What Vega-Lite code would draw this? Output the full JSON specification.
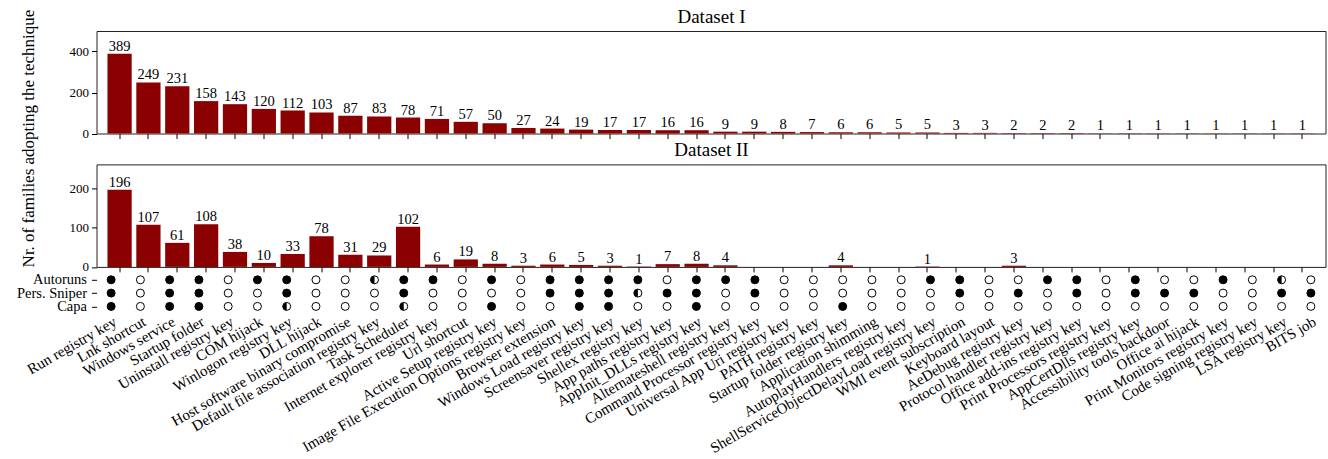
{
  "$schema": "https://vega.github.io/schema/vega-lite/v6.json",
  "padding": {"left": 15.5, "right": 3, "top": 6, "bottom": 5},
  "config": {
    "font": "Liberation Serif",
    "view": {"stroke": "#222", "strokeWidth": 1},
    "axis": {"grid": false, "labelFont": "Liberation Serif", "titleFont": "Liberation Serif", "labelColor": "black", "tickColor": "black", "domainColor": "black", "titleColor": "black", "titleFontWeight": "normal"}
  },
  "datasets": {
    "t": [
      {"technique": "Run registry key", "d1": 389, "d2": 196, "autoruns": "full", "sniper": "full", "capa": "full"},
      {"technique": "Lnk shortcut", "d1": 249, "d2": 107, "autoruns": "empty", "sniper": "empty", "capa": "empty"},
      {"technique": "Windows service", "d1": 231, "d2": 61, "autoruns": "full", "sniper": "full", "capa": "full"},
      {"technique": "Startup folder", "d1": 158, "d2": 108, "autoruns": "full", "sniper": "full", "capa": "full"},
      {"technique": "Uninstall registry key", "d1": 143, "d2": 38, "autoruns": "empty", "sniper": "empty", "capa": "empty"},
      {"technique": "COM hijack", "d1": 120, "d2": 10, "autoruns": "full", "sniper": "empty", "capa": "empty"},
      {"technique": "Winlogon registry key", "d1": 112, "d2": 33, "autoruns": "full", "sniper": "full", "capa": "half"},
      {"technique": "DLL hijack", "d1": 103, "d2": 78, "autoruns": "empty", "sniper": "empty", "capa": "empty"},
      {"technique": "Host software binary compromise", "d1": 87, "d2": 31, "autoruns": "empty", "sniper": "empty", "capa": "empty"},
      {"technique": "Default file association registry key", "d1": 83, "d2": 29, "autoruns": "half", "sniper": "empty", "capa": "empty"},
      {"technique": "Task Scheduler", "d1": 78, "d2": 102, "autoruns": "full", "sniper": "full", "capa": "half"},
      {"technique": "Internet explorer registry key", "d1": 71, "d2": 6, "autoruns": "full", "sniper": "empty", "capa": "empty"},
      {"technique": "Url shortcut", "d1": 57, "d2": 19, "autoruns": "empty", "sniper": "empty", "capa": "empty"},
      {"technique": "Active Setup registry key", "d1": 50, "d2": 8, "autoruns": "full", "sniper": "empty", "capa": "full"},
      {"technique": "Image File Execution Options registry key", "d1": 27, "d2": 3, "autoruns": "empty", "sniper": "empty", "capa": "empty"},
      {"technique": "Browser extension", "d1": 24, "d2": 6, "autoruns": "full", "sniper": "full", "capa": "empty"},
      {"technique": "Windows Load registry key", "d1": 19, "d2": 5, "autoruns": "full", "sniper": "full", "capa": "full"},
      {"technique": "Screensaver registry key", "d1": 17, "d2": 3, "autoruns": "full", "sniper": "full", "capa": "full"},
      {"technique": "Shellex registry key", "d1": 17, "d2": 1, "autoruns": "full", "sniper": "half", "capa": "empty"},
      {"technique": "App paths registry key", "d1": 16, "d2": 7, "autoruns": "empty", "sniper": "full", "capa": "empty"},
      {"technique": "AppInit_DLLs registry key", "d1": 16, "d2": 8, "autoruns": "full", "sniper": "full", "capa": "full"},
      {"technique": "Alternateshell registry key", "d1": 9, "d2": 4, "autoruns": "full", "sniper": "empty", "capa": "empty"},
      {"technique": "Command Processor registry key", "d1": 9, "d2": 0, "autoruns": "full", "sniper": "full", "capa": "empty"},
      {"technique": "Universal App Uri registry key", "d1": 8, "d2": 0, "autoruns": "empty", "sniper": "empty", "capa": "empty"},
      {"technique": "PATH registry key", "d1": 7, "d2": 0, "autoruns": "empty", "sniper": "empty", "capa": "empty"},
      {"technique": "Startup folder registry key", "d1": 6, "d2": 4, "autoruns": "empty", "sniper": "empty", "capa": "full"},
      {"technique": "Application shimming", "d1": 6, "d2": 0, "autoruns": "empty", "sniper": "empty", "capa": "empty"},
      {"technique": "AutoplayHandlers registry key", "d1": 5, "d2": 0, "autoruns": "empty", "sniper": "empty", "capa": "empty"},
      {"technique": "ShellServiceObjectDelayLoad registry key", "d1": 5, "d2": 1, "autoruns": "full", "sniper": "empty", "capa": "empty"},
      {"technique": "WMI event subscription", "d1": 3, "d2": 0, "autoruns": "full", "sniper": "full", "capa": "empty"},
      {"technique": "Keyboard layout", "d1": 3, "d2": 0, "autoruns": "empty", "sniper": "empty", "capa": "empty"},
      {"technique": "AeDebug registry key", "d1": 2, "d2": 3, "autoruns": "empty", "sniper": "full", "capa": "empty"},
      {"technique": "Protocol handler registry key", "d1": 2, "d2": 0, "autoruns": "full", "sniper": "empty", "capa": "empty"},
      {"technique": "Office add-ins registry key", "d1": 2, "d2": 0, "autoruns": "full", "sniper": "full", "capa": "empty"},
      {"technique": "Print Processors registry key", "d1": 1, "d2": 0, "autoruns": "empty", "sniper": "empty", "capa": "empty"},
      {"technique": "AppCertDlls registry key", "d1": 1, "d2": 0, "autoruns": "full", "sniper": "full", "capa": "empty"},
      {"technique": "Accessibility tools backdoor", "d1": 1, "d2": 0, "autoruns": "empty", "sniper": "full", "capa": "empty"},
      {"technique": "Office ai hijack", "d1": 1, "d2": 0, "autoruns": "empty", "sniper": "full", "capa": "empty"},
      {"technique": "Print Monitors registry key", "d1": 1, "d2": 0, "autoruns": "full", "sniper": "empty", "capa": "empty"},
      {"technique": "Code signing registry key", "d1": 1, "d2": 0, "autoruns": "empty", "sniper": "empty", "capa": "empty"},
      {"technique": "LSA registry key", "d1": 1, "d2": 0, "autoruns": "half", "sniper": "full", "capa": "empty"},
      {"technique": "BITS job", "d1": 1, "d2": 0, "autoruns": "empty", "sniper": "full", "capa": "empty"}
    ]
  },
  "bounds": "flush",
  "spacing": 30.4,
  "vconcat": [
    {
      "width": 1229,
      "height": 102.5,
      "data": {"name": "t"},
      "resolve": {"axis": {"x": "independent"}},
      "layer": [
        {
          "mark": {"type": "bar", "color": "#8b0000"},
          "encoding": {
            "x": {"field": "technique", "type": "nominal", "sort": null, "scale": {"paddingInner": 0.16, "paddingOuter": 0.38}, "axis": {"labels": false, "ticks": true, "tickSize": 5, "domain": false, "title": null}},
            "y": {"field": "d1", "type": "quantitative", "scale": {"domain": [0, 486]}, "axis": {"values": [0, 200, 400], "tickSize": 5, "labelFontSize": 13, "labelPadding": 3, "domain": false, "title": null}}
          }
        },
        {
          "mark": {"type": "text", "baseline": "alphabetic", "dy": -3, "fontSize": 14.5, "font": "Liberation Serif", "color": "black"},
          "encoding": {
            "x": {"field": "technique", "type": "nominal", "sort": null, "axis": {"orient": "top", "labels": false, "ticks": false, "domain": false, "title": "Dataset I", "titleFontSize": 19, "titlePadding": 5}},
            "y": {"field": "d1", "type": "quantitative"},
            "text": {"field": "d1", "type": "quantitative"}
          }
        }
      ]
    },
    {
      "width": 1229,
      "height": 102.5,
      "data": {"name": "t"},
      "resolve": {"axis": {"x": "independent"}},
      "layer": [
        {
          "mark": {"type": "bar", "color": "#8b0000"},
          "encoding": {
            "x": {"field": "technique", "type": "nominal", "sort": null, "scale": {"paddingInner": 0.16, "paddingOuter": 0.38}, "axis": {"labels": false, "ticks": true, "tickSize": 5, "domain": false, "title": null}},
            "y": {"field": "d2", "type": "quantitative", "scale": {"domain": [0, 245]}, "axis": {"values": [0, 100, 200], "tickSize": 5, "labelFontSize": 13, "labelPadding": 3, "domain": false, "title": "Nr. of families adopting the technique", "titleFontSize": 17, "titleAlign": "left", "titleAngle": -90, "titleBaseline": "alphabetic", "titleX": -63, "titleY": 102.5}}
          }
        },
        {
          "mark": {"type": "text", "baseline": "alphabetic", "dy": -3, "fontSize": 14.5, "font": "Liberation Serif", "color": "black"},
          "encoding": {
            "x": {"field": "technique", "type": "nominal", "sort": null, "axis": {"orient": "top", "labels": false, "ticks": false, "domain": false, "title": "Dataset II", "titleFontSize": 19, "titlePadding": 5}},
            "y": {"field": "d2", "type": "quantitative"},
            "text": {"condition": {"test": "datum.d2 > 0", "field": "d2", "type": "quantitative"}, "value": ""}
          }
        }
      ]
    },
    {
      "width": 1229,
      "height": 12,
      "view": {"stroke": null},
      "data": {"name": "t"},
      "transform": [{"fold": ["autoruns", "sniper", "capa"], "as": ["tool", "status"]}],
      "encoding": {
        "x": {"field": "technique", "type": "nominal", "sort": null, "scale": {"paddingInner": 0.16, "paddingOuter": 0.38}, "axis": {"labelAngle": -30, "labelAlign": "right", "labelBaseline": "top", "labelFontSize": 15, "labelPadding": 4, "ticks": false, "domain": false, "title": null, "labelOverlap": false, "labelLimit": 500}},
        "y": {"field": "tool", "type": "nominal", "scale": {"type": "point", "domain": ["autoruns", "sniper", "capa"], "range": [-18, 8.6], "padding": 0}, "axis": {"title": null, "domain": false, "tickSize": 5, "labelFontSize": 14.5, "labelPadding": 5, "labelExpr": "datum.value == 'autoruns' ? 'Autoruns' : datum.value == 'sniper' ? 'Pers. Sniper' : 'Capa'"}}
      },
      "layer": [
        {"mark": {"type": "point", "shape": "circle", "filled": true, "stroke": "black", "strokeWidth": 1, "size": 64, "opacity": 1}, "encoding": {"fill": {"field": "status", "type": "nominal", "scale": {"domain": ["full", "empty", "half"], "range": ["black", "white", "white"]}, "legend": null}}},
        {"mark": {"type": "point", "shape": "M0,-1A1,1,0,0,0,0,1Z", "filled": true, "fill": "black", "strokeWidth": 0, "size": 64, "opacity": 1}, "encoding": {"fillOpacity": {"condition": {"test": "datum.status == 'half'", "value": 1}, "value": 0}}}
      ]
    }
  ]
}
